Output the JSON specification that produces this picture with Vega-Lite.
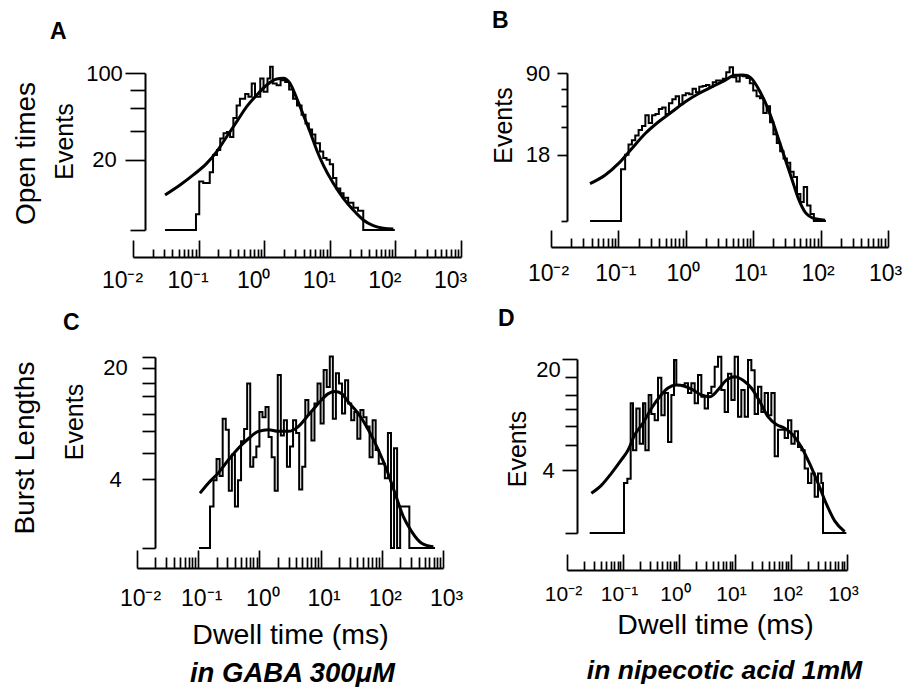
{
  "$schema": "https://vega.github.io/schema/vega-lite/v6.json",
  "autosize": {"type": "none"},
  "padding": {"left": 133, "top": 73, "right": 770, "bottom": 614},
  "background": "white",
  "config": {
    "view": {"stroke": null},
    "font": "Liberation Sans",
    "axis": {"grid": false, "domainColor": "black", "domainWidth": 2, "tickColor": "black", "tickWidth": 1.7, "labelColor": "black", "labelFont": "Liberation Sans", "titleColor": "black", "titleFont": "Liberation Sans", "titleFontWeight": "normal", "labelOverlap": false, "labelBound": false, "labelFlush": false},
    "title": {"font": "Liberation Sans", "color": "black", "fontWeight": "bold", "fontSize": 23, "anchor": "start", "frame": "group", "baseline": "alphabetic", "offset": 0}
  },
  "datasets": {
    "histA": [
      {"t": 0.0308, "n": 0}, {"t": 0.0912, "n": 1}, {"t": 0.1023, "n": 9.5}, {"t": 0.1175, "n": 9}, {"t": 0.1479, "n": 13.5}, {"t": 0.166, "n": 22.8}, {"t": 0.1905, "n": 26}, {"t": 0.2138, "n": 34}, {"t": 0.2399, "n": 38}, {"t": 0.2692, "n": 39}, {"t": 0.302, "n": 35}, {"t": 0.3388, "n": 51}, {"t": 0.3802, "n": 63}, {"t": 0.4266, "n": 70}, {"t": 0.5129, "n": 75}, {"t": 0.5754, "n": 72}, {"t": 0.6457, "n": 87}, {"t": 0.7244, "n": 72}, {"t": 0.871, "n": 93}, {"t": 0.9772, "n": 77.6}, {"t": 1.122, "n": 93}, {"t": 1.23, "n": 108}, {"t": 1.349, "n": 87}, {"t": 1.549, "n": 85}, {"t": 1.778, "n": 91}, {"t": 2.089, "n": 89}, {"t": 2.399, "n": 80}, {"t": 2.754, "n": 70}, {"t": 3.162, "n": 63}, {"t": 3.715, "n": 54}, {"t": 4.266, "n": 46}, {"t": 4.786, "n": 41}, {"t": 5.37, "n": 37}, {"t": 6.026, "n": 30.5}, {"t": 7.079, "n": 25}, {"t": 7.943, "n": 21}, {"t": 8.913, "n": 20}, {"t": 10.0, "n": 17.5}, {"t": 11.22, "n": 11}, {"t": 12.59, "n": 7}, {"t": 14.45, "n": 5.5}, {"t": 16.22, "n": 4.2}, {"t": 19.05, "n": 3}, {"t": 22.91, "n": 2}, {"t": 26.92, "n": 1.5}, {"t": 32.36, "n": 0}, {"t": 98, "n": 0}
    ],
    "fitA": [
      {"t": 0.0308, "n": 4.97}, {"t": 0.0521, "n": 8.2}, {"t": 0.083, "n": 12.3}, {"t": 0.1329, "n": 18.0}, {"t": 0.1888, "n": 24.9}, {"t": 0.268, "n": 35.3}, {"t": 0.381, "n": 47.6}, {"t": 0.541, "n": 61.7}, {"t": 0.769, "n": 73.9}, {"t": 1.092, "n": 85.3}, {"t": 1.552, "n": 92.5}, {"t": 1.955, "n": 93.4}, {"t": 2.473, "n": 87.3}, {"t": 3.13, "n": 70.4}, {"t": 3.95, "n": 53.7}, {"t": 4.99, "n": 39.2}, {"t": 6.31, "n": 26.0}, {"t": 7.96, "n": 17.1}, {"t": 11.3, "n": 8.85}, {"t": 16.1, "n": 4.08}, {"t": 22.8, "n": 1.62}, {"t": 32.4, "n": 0.41}, {"t": 46.0, "n": 0.075}, {"t": 65.4, "n": 0.012}, {"t": 92.9, "n": 0.004}
    ],
    "histB": [
      {"t": 0.038, "n": 0}, {"t": 0.1094, "n": 11}, {"t": 0.1259, "n": 18}, {"t": 0.1413, "n": 24}, {"t": 0.1585, "n": 26.8}, {"t": 0.1778, "n": 30}, {"t": 0.1995, "n": 34}, {"t": 0.2239, "n": 37}, {"t": 0.2512, "n": 46}, {"t": 0.2818, "n": 39.5}, {"t": 0.3162, "n": 46}, {"t": 0.3548, "n": 47}, {"t": 0.3981, "n": 51.5}, {"t": 0.4467, "n": 53}, {"t": 0.5012, "n": 47}, {"t": 0.5623, "n": 57}, {"t": 0.631, "n": 61}, {"t": 0.7079, "n": 64}, {"t": 0.7943, "n": 56}, {"t": 0.8913, "n": 65}, {"t": 1.0, "n": 67}, {"t": 1.122, "n": 66}, {"t": 1.259, "n": 72}, {"t": 1.413, "n": 68}, {"t": 1.585, "n": 74}, {"t": 1.778, "n": 75}, {"t": 1.995, "n": 76}, {"t": 2.239, "n": 74}, {"t": 2.512, "n": 79}, {"t": 2.818, "n": 81}, {"t": 3.162, "n": 81}, {"t": 3.548, "n": 83}, {"t": 3.981, "n": 91}, {"t": 4.467, "n": 97}, {"t": 5.012, "n": 85}, {"t": 5.623, "n": 80}, {"t": 6.31, "n": 88}, {"t": 7.079, "n": 86}, {"t": 7.943, "n": 84}, {"t": 8.913, "n": 78}, {"t": 10.0, "n": 70}, {"t": 11.22, "n": 64}, {"t": 12.59, "n": 62}, {"t": 14.13, "n": 48}, {"t": 15.85, "n": 54}, {"t": 17.78, "n": 40}, {"t": 19.95, "n": 31}, {"t": 22.39, "n": 25}, {"t": 25.12, "n": 20}, {"t": 28.18, "n": 16}, {"t": 31.62, "n": 14}, {"t": 35.48, "n": 10}, {"t": 39.81, "n": 8}, {"t": 44.67, "n": 3}, {"t": 50.12, "n": 1.5}, {"t": 56.23, "n": 4.75}, {"t": 63.1, "n": 1}, {"t": 70.79, "n": 0.2}, {"t": 79.43, "n": 0}, {"t": 120, "n": 0}
    ],
    "fitB": [
      {"t": 0.0379, "n": 5.72}, {"t": 0.0632, "n": 8.58}, {"t": 0.0998, "n": 13.5}, {"t": 0.1574, "n": 21.5}, {"t": 0.2483, "n": 31.3}, {"t": 0.3908, "n": 40.3}, {"t": 0.6166, "n": 48.8}, {"t": 0.9727, "n": 58.2}, {"t": 1.535, "n": 66.6}, {"t": 2.421, "n": 73.8}, {"t": 3.819, "n": 81.3}, {"t": 5.37, "n": 87.2}, {"t": 7.568, "n": 87.2}, {"t": 9.506, "n": 83.2}, {"t": 11.94, "n": 71.9}, {"t": 15.0, "n": 58.2}, {"t": 18.84, "n": 43.0}, {"t": 23.66, "n": 27.8}, {"t": 29.72, "n": 15.95}, {"t": 37.33, "n": 7.36}, {"t": 46.88, "n": 2.05}, {"t": 58.88, "n": 0.33}, {"t": 82.79, "n": 0.02}, {"t": 116.7, "n": 0.002}
    ],
    "histC": [
      {"t": 0.103, "n": 0}, {"t": 0.156, "n": 1.8}, {"t": 0.1778, "n": 3.9}, {"t": 0.1995, "n": 6.0}, {"t": 0.2239, "n": 4.3}, {"t": 0.2512, "n": 10.8}, {"t": 0.2818, "n": 9.4}, {"t": 0.3162, "n": 3.0}, {"t": 0.3548, "n": 6.5}, {"t": 0.3981, "n": 1.8}, {"t": 0.4467, "n": 3.9}, {"t": 0.5012, "n": 8.0}, {"t": 0.5623, "n": 9.5}, {"t": 0.631, "n": 15.8}, {"t": 0.7079, "n": 5.2}, {"t": 0.7943, "n": 6.2}, {"t": 0.8913, "n": 7.4}, {"t": 1.0, "n": 11.7}, {"t": 1.122, "n": 11.0}, {"t": 1.259, "n": 12.4}, {"t": 1.413, "n": 8.5}, {"t": 1.585, "n": 6.2}, {"t": 1.778, "n": 3.0}, {"t": 1.995, "n": 17.1}, {"t": 2.239, "n": 8.7}, {"t": 2.512, "n": 10.6}, {"t": 2.818, "n": 5.2}, {"t": 3.162, "n": 7.4}, {"t": 3.548, "n": 10.6}, {"t": 3.981, "n": 9.0}, {"t": 4.467, "n": 3.1}, {"t": 5.012, "n": 5.2}, {"t": 5.623, "n": 13.4}, {"t": 6.31, "n": 11.5}, {"t": 7.079, "n": 8.1}, {"t": 7.943, "n": 12.9}, {"t": 8.913, "n": 15.8}, {"t": 10.0, "n": 10.2}, {"t": 11.22, "n": 17.9}, {"t": 12.59, "n": 15.3}, {"t": 14.13, "n": 20.1}, {"t": 15.85, "n": 10.8}, {"t": 17.78, "n": 17.4}, {"t": 19.95, "n": 15.8}, {"t": 22.39, "n": 11.5}, {"t": 25.12, "n": 16.3}, {"t": 28.18, "n": 12.9}, {"t": 31.62, "n": 10.6}, {"t": 35.48, "n": 11.7}, {"t": 39.81, "n": 8.3}, {"t": 44.67, "n": 12.0}, {"t": 50.12, "n": 11.0}, {"t": 56.23, "n": 9.8}, {"t": 63.1, "n": 6.2}, {"t": 70.79, "n": 10.6}, {"t": 79.43, "n": 7.0}, {"t": 89.13, "n": 5.5}, {"t": 100, "n": 5.5}, {"t": 112.2, "n": 4.1}, {"t": 125.9, "n": 9.0}, {"t": 141.3, "n": 0}, {"t": 158.5, "n": 7.2}, {"t": 177.8, "n": 0}, {"t": 199.5, "n": 1.8}, {"t": 223.9, "n": 1.8}, {"t": 251.2, "n": 1.8}, {"t": 281.8, "n": 0}, {"t": 740, "n": 0}
    ],
    "fitC": [
      {"t": 0.1069, "n": 2.8}, {"t": 0.1462, "n": 3.64}, {"t": 0.2133, "n": 4.6}, {"t": 0.3105, "n": 5.9}, {"t": 0.4529, "n": 7.2}, {"t": 0.6592, "n": 8.3}, {"t": 0.9616, "n": 9.2}, {"t": 1.4, "n": 9.4}, {"t": 2.037, "n": 9.2}, {"t": 2.972, "n": 9.2}, {"t": 4.325, "n": 9.8}, {"t": 6.31, "n": 11.3}, {"t": 9.183, "n": 12.9}, {"t": 13.37, "n": 14.3}, {"t": 17.18, "n": 14.6}, {"t": 22.08, "n": 14.3}, {"t": 28.38, "n": 13.1}, {"t": 41.4, "n": 11.5}, {"t": 60.26, "n": 9.4}, {"t": 87.7, "n": 7.0}, {"t": 120.2, "n": 4.9}, {"t": 164.4, "n": 2.8}, {"t": 224.9, "n": 1.16}, {"t": 307.6, "n": 0.42}, {"t": 447.7, "n": 0.06}, {"t": 695, "n": 0.007}
    ],
    "histD": [
      {"t": 0.0254, "n": 0}, {"t": 0.1042, "n": 2.8}, {"t": 0.1195, "n": 3.2}, {"t": 0.1371, "n": 12.6}, {"t": 0.151, "n": 6.2}, {"t": 0.173, "n": 11.8}, {"t": 0.1985, "n": 7.0}, {"t": 0.2277, "n": 12.6}, {"t": 0.2506, "n": 6.2}, {"t": 0.2873, "n": 13.9}, {"t": 0.3206, "n": 11.0}, {"t": 0.3676, "n": 10.1}, {"t": 0.4217, "n": 16.7}, {"t": 0.4838, "n": 10.8}, {"t": 0.5549, "n": 14.2}, {"t": 0.6365, "n": 7.2}, {"t": 0.7302, "n": 13.9}, {"t": 0.8145, "n": 19.8}, {"t": 0.896, "n": 15.5}, {"t": 1.262, "n": 15.8}, {"t": 1.448, "n": 14.2}, {"t": 1.66, "n": 15.8}, {"t": 1.905, "n": 12.6}, {"t": 2.184, "n": 17.2}, {"t": 2.505, "n": 13.6}, {"t": 2.873, "n": 11.8}, {"t": 3.296, "n": 14.2}, {"t": 3.78, "n": 15.2}, {"t": 4.335, "n": 18.6}, {"t": 4.972, "n": 20.4}, {"t": 5.703, "n": 14.7}, {"t": 6.541, "n": 11.3}, {"t": 7.499, "n": 17.4}, {"t": 8.601, "n": 13.1}, {"t": 9.863, "n": 20.4}, {"t": 11.31, "n": 10.6}, {"t": 12.97, "n": 14.7}, {"t": 14.88, "n": 10.6}, {"t": 17.07, "n": 19.8}, {"t": 19.58, "n": 18.0}, {"t": 22.45, "n": 11.0}, {"t": 25.75, "n": 15.2}, {"t": 29.54, "n": 11.3}, {"t": 33.88, "n": 14.2}, {"t": 38.85, "n": 10.8}, {"t": 44.56, "n": 14.2}, {"t": 51.11, "n": 5.5}, {"t": 58.62, "n": 8.8}, {"t": 67.23, "n": 8.8}, {"t": 77.11, "n": 7.7}, {"t": 88.44, "n": 10.1}, {"t": 101.4, "n": 7.0}, {"t": 116.3, "n": 8.6}, {"t": 133.4, "n": 6.6}, {"t": 153.0, "n": 6.2}, {"t": 175.5, "n": 4.2}, {"t": 201.2, "n": 2.8}, {"t": 230.8, "n": 3.7}, {"t": 264.7, "n": 1.7}, {"t": 303.6, "n": 3.7}, {"t": 348.2, "n": 2.8}, {"t": 372.8, "n": 0}, {"t": 973, "n": 0}
    ],
    "fitD": [
      {"t": 0.0272, "n": 1.95}, {"t": 0.041, "n": 2.6}, {"t": 0.0619, "n": 3.7}, {"t": 0.0933, "n": 5.1}, {"t": 0.1227, "n": 6.2}, {"t": 0.1614, "n": 8.1}, {"t": 0.2275, "n": 9.7}, {"t": 0.3206, "n": 11.8}, {"t": 0.4519, "n": 13.6}, {"t": 0.6368, "n": 15.0}, {"t": 0.8954, "n": 15.5}, {"t": 1.262, "n": 15.3}, {"t": 1.778, "n": 14.7}, {"t": 2.506, "n": 13.9}, {"t": 3.532, "n": 13.6}, {"t": 4.966, "n": 14.7}, {"t": 6.998, "n": 16.3}, {"t": 9.863, "n": 16.9}, {"t": 13.9, "n": 16.3}, {"t": 19.59, "n": 15.0}, {"t": 27.54, "n": 12.9}, {"t": 38.82, "n": 10.6}, {"t": 54.7, "n": 9.5}, {"t": 77.09, "n": 9.0}, {"t": 108.6, "n": 8.1}, {"t": 153.1, "n": 6.6}, {"t": 215.3, "n": 4.7}, {"t": 303.4, "n": 2.8}, {"t": 427.6, "n": 1.2}, {"t": 602.6, "n": 0.3}, {"t": 907.8, "n": 0.01}
    ]
  },
  "columns": 2,
  "bounds": "flush",
  "spacing": {"row": 127, "column": 90},
  "concat": [
    {
      "width": 328, "height": 157,
      "title": {"text": "A", "dx": -83, "dy": -14},
      "resolve": {"axis": {"y": "independent"}},
      "encoding": {
        "x": {"field": "t", "type": "quantitative", "scale": {"type": "log", "domain": [0.01, 1000], "nice": false},
          "axis": {"orient": "bottom", "offset": 27, "title": null,
            "values": [0.01,0.02,0.03,0.04,0.05,0.06,0.07,0.08,0.09,0.1,0.2,0.3,0.4,0.5,0.6,0.7,0.8,0.9,1,2,3,4,5,6,7,8,9,10,20,30,40,50,60,70,80,90,100,200,300,400,500,600,700,800,900,1000],
            "labelExpr": "datum.value == 0.01 ? '10⁻²' : datum.value == 0.1 ? '10⁻¹' : datum.value == 1 ? '10⁰' : datum.value == 10 ? '10¹' : datum.value == 100 ? '10²' : datum.value == 1000 ? '10³' : ''",
            "labelFontSize": 23, "labelBaseline": "alphabetic", "labelAlign": "center", "labelOffset": -11, "labelPadding": 47,
            "tickSize": {"condition": {"test": "datum.value == 0.01 || datum.value == 0.1 || datum.value == 1 || datum.value == 10 || datum.value == 100 || datum.value == 1000", "value": -17}, "value": -8}}}
      },
      "layer": [
        {
          "data": {"name": "histA"},
          "mark": {"type": "line", "interpolate": "step-after", "color": "black", "strokeWidth": 2},
          "encoding": {
            "y": {"field": "n", "type": "quantitative", "scale": {"type": "sqrt", "domain": [0, 100], "nice": false},
              "axis": {"orient": "left", "offset": -12, "values": [0, 20, 40, 60, 80, 100],
                "title": "Events", "titleX": -81, "titleY": 68, "titleAngle": -90, "titleAlign": "center", "titleBaseline": "middle", "titleFontSize": 25,
                "labelExpr": "datum.value == 20 || datum.value == 100 ? datum.label : ''", "labelAlign": "center", "labelBaseline": "middle", "labelPadding": 21, "labelFontSize": 22,
                "tickSize": {"condition": {"test": "datum.value == 20 || datum.value == 100", "value": 20}, "value": 15}}}
          }
        },
        {
          "data": {"name": "fitA"},
          "mark": {"type": "line", "interpolate": "monotone", "color": "black", "strokeWidth": 3},
          "encoding": {
            "y": {"field": "n", "type": "quantitative", "scale": {"type": "sqrt", "domain": [0, 100], "nice": false},
              "axis": {"orient": "left", "offset": 0, "domain": false, "ticks": false, "labels": false, "title": "Open times", "titleX": -107, "titleY": 80, "titleAngle": -90, "titleAlign": "center", "titleBaseline": "middle", "titleFontSize": 28}}
          }
        }
      ]
    },
    {
      "width": 337, "height": 148,
      "title": {"text": "B", "dx": -59, "dy": -25},
      "encoding": {
        "x": {"field": "t", "type": "quantitative", "scale": {"type": "log", "domain": [0.01, 1000], "nice": false},
          "axis": {"orient": "bottom", "offset": 26, "title": null,
            "values": [0.01,0.02,0.03,0.04,0.05,0.06,0.07,0.08,0.09,0.1,0.2,0.3,0.4,0.5,0.6,0.7,0.8,0.9,1,2,3,4,5,6,7,8,9,10,20,30,40,50,60,70,80,90,100,200,300,400,500,600,700,800,900,1000],
            "labelExpr": "datum.value == 0.01 ? '10⁻²' : datum.value == 0.1 ? '10⁻¹' : datum.value == 1 ? '10⁰' : datum.value == 10 ? '10¹' : datum.value == 100 ? '10²' : datum.value == 1000 ? '10³' : ''",
            "labelFontSize": 23, "labelBaseline": "alphabetic", "labelAlign": "center", "labelOffset": -3, "labelPadding": 50,
            "tickSize": {"condition": {"test": "datum.value == 0.01 || datum.value == 0.1 || datum.value == 1 || datum.value == 10 || datum.value == 100 || datum.value == 1000", "value": -17}, "value": -9}}},
        "y": {"field": "n", "type": "quantitative", "scale": {"type": "sqrt", "domain": [0, 90], "nice": false},
          "axis": {"orient": "left", "offset": -16, "values": [0, 18, 36, 54, 72, 90],
            "title": "Events", "titleX": -64, "titleY": 52, "titleAngle": -90, "titleAlign": "center", "titleBaseline": "middle", "titleFontSize": 25,
            "labelExpr": "datum.value == 18 || datum.value == 90 ? datum.label : ''", "labelAlign": "center", "labelBaseline": "middle", "labelPadding": 19.5, "labelFontSize": 22,
            "tickSize": {"condition": {"test": "datum.value == 18 || datum.value == 90", "value": 10}, "value": 6}}}
      },
      "layer": [
        {"data": {"name": "histB"}, "mark": {"type": "line", "interpolate": "step-after", "color": "black", "strokeWidth": 2}},
        {"data": {"name": "fitB"}, "mark": {"type": "line", "interpolate": "monotone", "color": "black", "strokeWidth": 3}}
      ]
    },
    {
      "width": 310, "height": 191,
      "title": {"text": "C", "dx": -70, "dy": -13.5},
      "resolve": {"axis": {"y": "independent", "x": "independent"}},
      "layer": [
        {
          "data": {"name": "histC"},
          "mark": {"type": "line", "interpolate": "step-after", "color": "black", "strokeWidth": 2},
          "encoding": {
            "x": {"field": "t", "type": "quantitative", "scale": {"type": "log", "domain": [0.01, 1000], "nice": false, "range": [4, 310]},
              "axis": {"orient": "bottom", "offset": 20,
                "values": [0.01,0.02,0.03,0.04,0.05,0.06,0.07,0.08,0.09,0.1,0.2,0.3,0.4,0.5,0.6,0.7,0.8,0.9,1,2,3,4,5,6,7,8,9,10,20,30,40,50,60,70,80,90,100,200,300,400,500,600,700,800,900,1000],
                "labelExpr": "datum.value == 0.01 ? '10⁻²' : datum.value == 0.1 ? '10⁻¹' : datum.value == 1 ? '10⁰' : datum.value == 10 ? '10¹' : datum.value == 100 ? '10²' : datum.value == 1000 ? '10³' : ''",
                "labelFontSize": 23, "labelBaseline": "alphabetic", "labelAlign": "center", "labelOffset": 3, "labelPadding": 55,
                "tickSize": {"condition": {"test": "datum.value == 0.01 || datum.value == 0.1 || datum.value == 1 || datum.value == 10 || datum.value == 100 || datum.value == 1000", "value": -18}, "value": -11},
                "title": "Dwell time (ms)", "titleX": 157, "titleY": 75, "titleAlign": "center", "titleBaseline": "alphabetic", "titleFontSize": 28.5, "titleAngle": 0}},
            "y": {"field": "n", "type": "quantitative", "scale": {"type": "pow", "exponent": 0.635, "domain": [0, 20], "nice": false},
              "axis": {"orient": "left", "offset": -22, "values": [0, 4, 6.7, 9.3, 11.5, 13.9, 15.9, 18.2, 20],
                "title": "Events", "titleX": -81, "titleY": 64.5, "titleAngle": -90, "titleAlign": "center", "titleBaseline": "middle", "titleFontSize": 25,
                "labelExpr": "datum.value == 4 || datum.value == 20 ? datum.label : ''", "labelAlign": "center",
                "labelBaseline": {"condition": {"test": "datum.value == 20", "value": "top"}, "value": "middle"},
                "labelPadding": 27, "labelFontSize": 22, "tickSize": 13}}
          }
        },
        {
          "data": {"name": "fitC"},
          "mark": {"type": "line", "interpolate": "monotone", "color": "black", "strokeWidth": 3},
          "encoding": {
            "x": {"field": "t", "type": "quantitative", "scale": {"type": "log", "domain": [0.01, 1000], "nice": false, "range": [4, 310]},
              "axis": {"orient": "bottom", "offset": 0, "domain": false, "ticks": false, "labels": false, "title": "in GABA 300μM", "titleX": 159, "titleY": 133, "titleAlign": "center", "titleBaseline": "alphabetic", "titleFontSize": 27.5, "titleFontStyle": "italic", "titleFontWeight": "bold", "titleAngle": 0}},
            "y": {"field": "n", "type": "quantitative", "scale": {"type": "pow", "exponent": 0.635, "domain": [0, 20], "nice": false},
              "axis": {"orient": "left", "offset": 0, "domain": false, "ticks": false, "labels": false, "title": "Burst Lengths", "titleX": -108, "titleY": 90.5, "titleAngle": -90, "titleAlign": "center", "titleBaseline": "middle", "titleFontSize": 28}}
          }
        }
      ]
    },
    {
      "width": 296, "height": 176,
      "title": {"text": "D", "dx": -53, "dy": -18},
      "resolve": {"axis": {"x": "independent"}},
      "encoding": {
        "y": {"field": "n", "type": "quantitative", "scale": {"type": "pow", "exponent": 0.635, "domain": [0, 20], "nice": false, "range": [176, 2]},
          "axis": {"orient": "left", "offset": -26, "values": [0, 4, 6.8, 9.3, 11.8, 13.9, 16.9, 20],
            "title": "Events", "titleX": -60, "titleY": 91.5, "titleAngle": -90, "titleAlign": "center", "titleBaseline": "middle", "titleFontSize": 25,
            "labelExpr": "datum.value == 4 || datum.value == 20 ? datum.label : ''", "labelAlign": "center",
            "labelBaseline": {"condition": {"test": "datum.value == 20", "value": "top"}, "value": "middle"},
            "labelPadding": 14, "labelFontSize": 22,
            "tickSize": {"condition": {"test": "datum.value == 4 || datum.value == 20", "value": 15}, "value": 12}}}
      },
      "layer": [
        {
          "data": {"name": "histD"},
          "mark": {"type": "line", "interpolate": "step-after", "color": "black", "strokeWidth": 2},
          "encoding": {
            "x": {"field": "t", "type": "quantitative", "scale": {"type": "log", "domain": [0.01, 1000], "nice": false, "range": [16, 296]},
              "axis": {"orient": "bottom", "offset": 37,
                "values": [0.01,0.02,0.03,0.04,0.05,0.06,0.07,0.08,0.09,0.1,0.2,0.3,0.4,0.5,0.6,0.7,0.8,0.9,1,2,3,4,5,6,7,8,9,10,20,30,40,50,60,70,80,90,100,200,300,400,500,600,700,800,900,1000],
                "labelExpr": "datum.value == 0.01 ? '10⁻²' : datum.value == 0.1 ? '10⁻¹' : datum.value == 1 ? '10⁰' : datum.value == 10 ? '10¹' : datum.value == 100 ? '10²' : datum.value == 1000 ? '10³' : ''",
                "labelFontSize": 21, "labelBaseline": "alphabetic", "labelAlign": "center", "labelOffset": -4, "labelPadding": 46,
                "tickSize": {"condition": {"test": "datum.value == 0.01 || datum.value == 0.1 || datum.value == 1 || datum.value == 10 || datum.value == 100 || datum.value == 1000", "value": -16}, "value": -9},
                "title": "Dwell time (ms)", "titleX": 164, "titleY": 63, "titleAlign": "center", "titleBaseline": "alphabetic", "titleFontSize": 28.5, "titleAngle": 0}}
          }
        },
        {
          "data": {"name": "fitD"},
          "mark": {"type": "line", "interpolate": "monotone", "color": "black", "strokeWidth": 3},
          "encoding": {
            "x": {"field": "t", "type": "quantitative", "scale": {"type": "log", "domain": [0.01, 1000], "nice": false, "range": [16, 296]},
              "axis": {"orient": "bottom", "offset": 0, "domain": false, "ticks": false, "labels": false, "title": "in nipecotic acid 1mM", "titleX": 173, "titleY": 145, "titleAlign": "center", "titleBaseline": "alphabetic", "titleFontSize": 26.5, "titleFontStyle": "italic", "titleFontWeight": "bold", "titleAngle": 0}}
          }
        }
      ]
    }
  ]
}
